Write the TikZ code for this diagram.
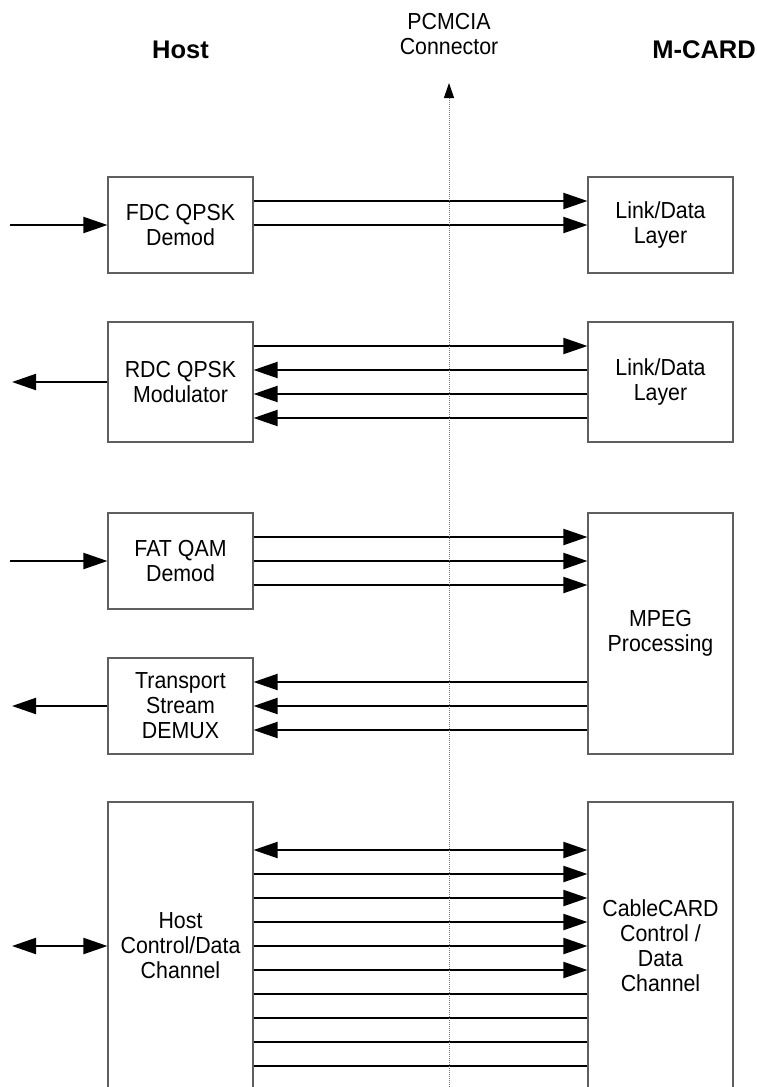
\documentclass[tikz,border=0pt]{standalone}
\usepackage{fontspec}
\setmainfont{Liberation Sans}
\newfontfamily\blkfont{Liberation Sans}[FakeStretch=0.92]
\usetikzlibrary{arrows.meta,calc}
\definecolor{boxline}{RGB}{95,95,95}
\definecolor{pinline}{RGB}{120,120,120}

\begin{document}
\begin{tikzpicture}[x=1pt,y=-1pt,
    blk/.style={draw=boxline,line width=1.1pt,minimum width=145pt,inner sep=0pt,
        align=center,font=\blkfont\fontsize{23.2}{25}\selectfont},
    hdr/.style={font=\bfseries\fontsize{25.5}{30}\selectfont,inner sep=0pt},
    sig/.style={line width=2pt,-{Triangle[length=24pt,width=16pt]}},
    bisig/.style={line width=2pt,{Triangle[length=24pt,width=16pt]}-{Triangle[length=24pt,width=16pt]}},
    wire/.style={line width=2pt}]
    \useasboundingbox (0,0) rectangle (757,1087);
    % headings
    \node[hdr] (host) at (180.5,50) {Host};
    \node[hdr,anchor=east] (mcard) at (756,50) {M-CARD};
    \node[align=center,inner sep=0pt,font=\blkfont\fontsize{23.2}{25}\selectfont] (pcmcia) at (449,34.5) {PCMCIA\\Connector};
    % host side
    \node[blk,minimum height=96pt] (fdc) at (180.5,225) {FDC QPSK\\Demod};
    \node[blk,minimum height=120pt] (rdc) at (180.5,382) {RDC QPSK\\Modulator};
    \node[blk,minimum height=96pt] (fat) at (180.5,561) {FAT QAM\\Demod};
    \node[blk,minimum height=96pt] (tsd) at (180.5,706) {Transport\\Stream\\DEMUX};
    \node[blk,minimum height=288pt] (hcd) at (180.5,946) {Host\\Control/Data\\Channel};
    % card side
    \node[blk,minimum height=96pt] (ldl1) at (660.5,225) {Link/Data\\Layer};
    \node[blk,minimum height=120pt] (ldl2) at (660.5,382) {Link/Data\\Layer};
    \node[blk,minimum height=241pt] (mpeg) at (660.5,633.5) {MPEG\\Processing};
    \node[blk,minimum height=288pt] (ccd) at (660.5,946) {CableCARD\\Control /\\Data\\Channel};
    % outside connections
    \coordinate (fdcin) at (10,225);
    \coordinate (rdcout) at (12,382);
    \coordinate (fatin) at (10,561);
    \coordinate (tsdout) at (12,706);
    \coordinate (hcdext) at (12,946);
    \draw[sig] (fdcin) -- (fdc.west);
    \draw[sig] (rdc.west) -- (rdcout);
    \draw[sig] (fatin) -- (fat.west);
    \draw[sig] (tsd.west) -- (tsdout);
    \draw[bisig] (hcdext) -- (hcd.west);
    % across the connector
    \foreach \d in {-24,0}
        \draw[sig] ($(fdc.east)+(0,\d)$) -- ($(fdc.east -| ldl1.west)+(0,\d)$);
    \draw[sig] ($(rdc.east)+(0,-36)$) -- ($(rdc.east -| ldl2.west)+(0,-36)$);
    \foreach \d in {-12,12,36}
        \draw[sig] ($(rdc.east -| ldl2.west)+(0,\d)$) -- ($(rdc.east)+(0,\d)$);
    \foreach \d in {-24,0,24}
        \draw[sig] ($(fat.east)+(0,\d)$) -- ($(fat.east -| mpeg.west)+(0,\d)$);
    \foreach \d in {-24,0,24}
        \draw[sig] ($(tsd.east -| mpeg.west)+(0,\d)$) -- ($(tsd.east)+(0,\d)$);
    \draw[bisig] ($(hcd.east)+(0,-96)$) -- ($(ccd.west)+(0,-96)$);
    \foreach \d in {-72,-48,-24,0,24}
        \draw[sig] ($(hcd.east)+(0,\d)$) -- ($(ccd.west)+(0,\d)$);
    \foreach \d in {48,72,96,120}
        \draw[wire] ($(hcd.east)+(0,\d)$) -- ($(ccd.west)+(0,\d)$);
    % PCMCIA line
    \coordinate (pinbot) at (449,1087);
    \coordinate (pintop) at (449,83);
    \draw[draw=pinline,line width=1pt,dash pattern=on 1pt off 1pt,
        -{Triangle[length=15pt,width=10pt,color=black]}] (pinbot) -- (pintop);
\end{tikzpicture}
\end{document}
